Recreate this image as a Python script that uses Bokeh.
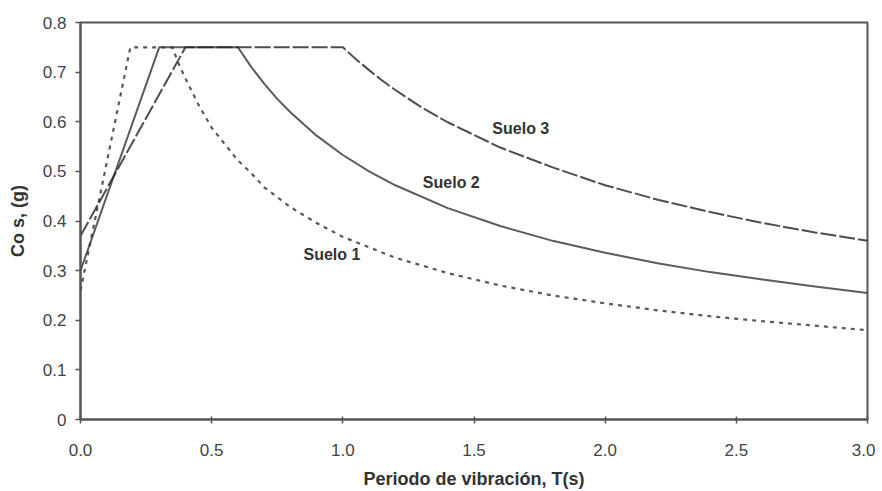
from bokeh.plotting import figure
from bokeh.models import Range1d, Label, FixedTicker, PrintfTickFormatter
from bokeh.embed import file_html
from bokeh.resources import INLINE

# Periodo T (s) and Co s (g)
t_suelo1 = [0.0, 0.19, 0.35, 0.375, 0.40, 0.45, 0.50, 0.55, 0.60, 0.65, 0.70, 0.80, 0.90, 1.00, 1.20, 1.40, 1.60, 1.80, 2.00, 2.20, 2.40, 2.60, 2.80, 3.00]
c_suelo1 = [0.26, 0.75, 0.75, 0.716, 0.687, 0.634, 0.588, 0.555, 0.522, 0.497, 0.468, 0.428, 0.396, 0.368, 0.326, 0.295, 0.270, 0.250, 0.234, 0.220, 0.208, 0.198, 0.189, 0.180]

t_suelo2 = [0.0, 0.30, 0.60, 0.65, 0.70, 0.75, 0.80, 0.90, 1.00, 1.10, 1.20, 1.40, 1.60, 1.80, 2.00, 2.20, 2.40, 2.60, 2.80, 3.00]
c_suelo2 = [0.30, 0.75, 0.75, 0.711, 0.677, 0.646, 0.619, 0.572, 0.533, 0.500, 0.472, 0.426, 0.390, 0.360, 0.336, 0.315, 0.297, 0.282, 0.268, 0.255]

t_suelo3 = [0.0, 0.40, 1.00, 1.05, 1.10, 1.15, 1.20, 1.30, 1.40, 1.60, 1.80, 2.00, 2.20, 2.40, 2.60, 2.80, 3.00]
c_suelo3 = [0.37, 0.75, 0.75, 0.726, 0.704, 0.683, 0.664, 0.629, 0.599, 0.548, 0.508, 0.472, 0.443, 0.418, 0.396, 0.377, 0.360]

x_ticks = [0.0, 0.5, 1.0, 1.5, 2.0, 2.5, 3.0]
y_ticks = [0.0, 0.1, 0.2, 0.3, 0.4, 0.5, 0.6, 0.7, 0.8]

curve_labels = ["Suelo 1", "Suelo 2", "Suelo 3"]
label_t = [0.85, 1.305, 1.57]
label_c = [0.332, 0.478, 0.587]

p = figure(width=875, height=491, output_backend="svg", toolbar_location=None,
           x_range=Range1d(0, 3.0), y_range=Range1d(0, 0.8),
           min_border_left=80, min_border_right=8, min_border_top=22, min_border_bottom=71)
p.background_fill_color = "white"
p.border_fill_color = "white"
p.xgrid.visible = False
p.ygrid.visible = False
p.outline_line_color = "#555555"
p.outline_line_width = 2

p.line(t_suelo1, c_suelo1, line_color="#222222", line_width=2.2, line_dash="4 5", line_alpha=0.75)
p.line(t_suelo2, c_suelo2, line_color="#333333", line_width=2, line_alpha=0.8)
p.line(t_suelo3, c_suelo3, line_color="#222222", line_width=2, line_dash="16 3", line_alpha=0.8)

for name, tx, cy in zip(curve_labels, label_t, label_c):
    p.add_layout(Label(x=tx, y=cy, text=name, text_font="Liberation Sans", text_font_style="bold",
                       text_font_size="16px", text_color="#333333", text_baseline="middle", text_align="left"))

for ax in (p.xaxis[0], p.yaxis[0]):
    ax.axis_line_color = "#555555"
    ax.axis_line_width = 2
    ax.major_tick_line_color = "#555555"
    ax.major_tick_line_width = 1.5
    ax.minor_tick_line_color = None
    ax.major_label_text_font = "Liberation Sans"
    ax.major_label_text_font_size = "17px"
    ax.major_label_text_color = "#444444"
    ax.axis_label_text_font = "Liberation Sans"
    ax.axis_label_text_font_style = "bold"
    ax.axis_label_text_font_size = "18px"
    ax.axis_label_text_color = "#333333"

p.xaxis.ticker = FixedTicker(ticks=x_ticks)
p.yaxis.ticker = FixedTicker(ticks=y_ticks)
p.xaxis.formatter = PrintfTickFormatter(format="%.1f")
p.yaxis.formatter = PrintfTickFormatter(format="%.1f")
p.yaxis.major_label_overrides = {0: "0"}
p.xaxis.major_tick_in = 3
p.xaxis.major_tick_out = 4
p.yaxis.major_tick_in = 0
p.yaxis.major_tick_out = 5
p.xaxis.major_label_standoff = 20
p.yaxis.major_label_standoff = 9
p.xaxis.axis_label = "Periodo de vibración, T(s)"
p.yaxis.axis_label = "Co s, (g)"
p.xaxis.axis_label_standoff = 10
p.yaxis.axis_label_standoff = 12

open("out.html", "w").write(file_html(p, INLINE))
